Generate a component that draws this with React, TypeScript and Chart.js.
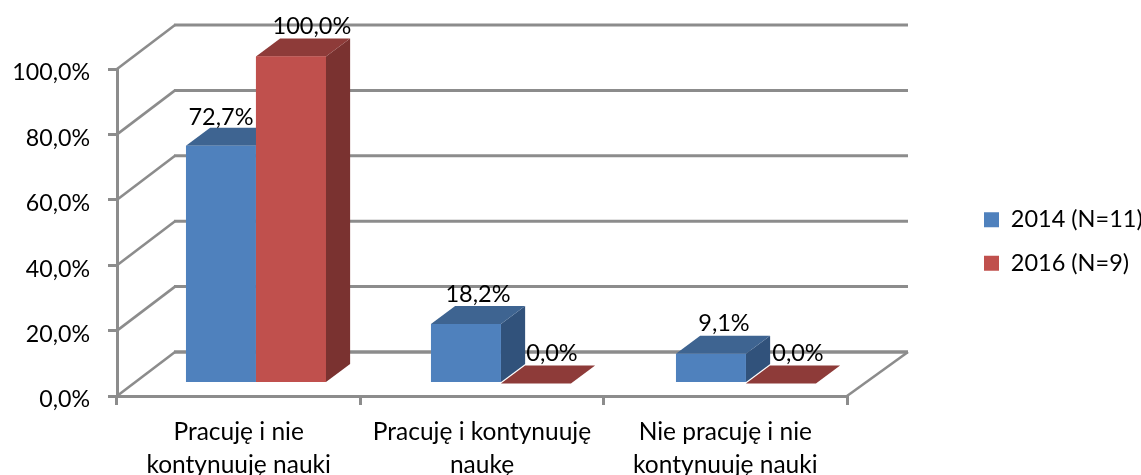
import React, { useEffect, useRef } from "react";
import { Chart, registerables } from "chart.js";

Chart.register(...registerables);

const categories = [
  ["Pracuję i nie", "kontynuuję nauki"],
  ["Pracuję i kontynuuję", "naukę"],
  ["Nie pracuję i nie", "kontynuuję nauki"],
];
const series2014 = [72.7, 18.2, 9.1];
const series2016 = [100, 0, 0];
const seriesNames = ["2014 (N=11)", "2016 (N=9)"];
const yTicks = [0, 20, 40, 60, 80, 100];

const FONT = "Lato";
const AXIS = "#8c8c8c";
const FACES = [
  { front: "#4f81bd", top: "#3e6491", side: "#31527b" },
  { front: "#c0504d", top: "#8e3b39", side: "#7a3230" },
];
// Perspective of the reference's pseudo-3D box
const WALL = { dx: 58, dy: 44 };
const BAR_PLANE = { sx: 1.00685, dx: 15.66, dy: 12.5 };
const BAR_DEPTH = { dx: 24, dy: 18 };
// Hand-placed label shifts of the reference, relative to the bar's front centre
const labelShifts = [
  [{ x: 0, y: 2 }, { x: 12, y: 0 }, { x: 13, y: 0 }],
  [{ x: 21, y: 0 }, { x: 16, y: 0 }, { x: 17, y: 0 }],
];

const fmt = (v: number) => v.toFixed(1).replace(".", ",") + "%";

function poly(ctx: CanvasRenderingContext2D, pts: number[][], fill: string) {
  ctx.beginPath();
  pts.forEach((p, i) => (i ? ctx.lineTo(p[0], p[1]) : ctx.moveTo(p[0], p[1])));
  ctx.closePath();
  ctx.fillStyle = fill;
  ctx.fill();
}

function toBarPlane(ctx: CanvasRenderingContext2D) {
  ctx.transform(BAR_PLANE.sx, 0, 0, 1, BAR_PLANE.dx, -BAR_PLANE.dy);
}

const box3d = {
  id: "box3d",
  afterLayout(chart: any) {
    const lg = chart.legend;
    const pad = lg.options.labels.padding;
    lg.left = 984 - pad;
    lg.right = 1141;
    lg.width = 1141 - lg.left;
    lg.top = 188.3;
    lg.bottom = 300;
    lg.height = 111.7;
  },
  beforeDatasetsDraw(chart: any) {
    const { ctx, chartArea, scales } = chart;
    const y = scales.y;
    const backX = chartArea.left + WALL.dx;
    const endX = chartArea.right + WALL.dx + 3;
    ctx.save();
    ctx.strokeStyle = AXIS;
    ctx.lineCap = "butt";
    y.ticks.forEach((t: any) => {
      const py = y.getPixelForValue(t.value);
      ctx.lineWidth = 2.6;
      ctx.beginPath();
      ctx.moveTo(chartArea.left, py);
      ctx.lineTo(backX, py - WALL.dy);
      ctx.stroke();
      ctx.lineWidth = t.value === 0 ? 3.4 : 3;
      ctx.beginPath();
      ctx.moveTo(backX - 1, py - WALL.dy);
      ctx.lineTo(endX, py - WALL.dy);
      ctx.stroke();
    });
    ctx.lineWidth = 2.6;
    const y0 = y.getPixelForValue(0);
    ctx.beginPath();
    ctx.moveTo(chartArea.right, y0);
    ctx.lineTo(endX, y0 - WALL.dy);
    ctx.stroke();
    ctx.restore();
  },
  beforeDatasetDraw(chart: any, args: any) {
    const { ctx } = chart;
    const f = FACES[args.index];
    ctx.save();
    toBarPlane(ctx);
    args.meta.data.forEach((el: any) => {
      const l = el.x - el.width / 2;
      const r = el.x + el.width / 2;
      const { dx, dy } = BAR_DEPTH;
      if (el.base - el.y > 1) {
        poly(ctx, [[r, el.y], [r + dx, el.y - dy], [r + dx, el.base - dy], [r, el.base]], f.side);
      }
      poly(ctx, [[l, el.y], [l + dx, el.y - dy], [r + dx, el.y - dy], [r, el.y]], f.top);
    });
  },
  afterDatasetDraw(chart: any) {
    chart.ctx.restore();
  },
  afterDatasetsDraw(chart: any) {
    const { ctx } = chart;
    // The second series stands in front of the first one's side face
    ctx.save();
    toBarPlane(ctx);
    chart.getDatasetMeta(1).data.forEach((el: any) => {
      if (el.base - el.y > 1) el.draw(ctx);
    });
    ctx.restore();

    ctx.save();
    ctx.font = `23.5px ${FONT}`;
    ctx.fillStyle = "#000";
    ctx.textAlign = "center";
    ctx.textBaseline = "middle";
    chart.data.datasets.forEach((ds: any, i: number) => {
      chart.getDatasetMeta(i).data.forEach((el: any, j: number) => {
        const s = labelShifts[i][j];
        ctx.fillText(
          fmt(ds.data[j]),
          el.x * BAR_PLANE.sx + BAR_PLANE.dx + s.x,
          el.y - BAR_PLANE.dy - BAR_DEPTH.dy - 12 + s.y
        );
      });
    });
    ctx.restore();
  },
};

export default function App() {
  const ref = useRef<HTMLCanvasElement>(null);
  useEffect(() => {
    const chart = new Chart(ref.current as HTMLCanvasElement, {
      type: "bar",
      data: {
        labels: categories,
        datasets: [
          { label: seriesNames[0], data: series2014, backgroundColor: FACES[0].front, borderWidth: 0, clip: false },
          { label: seriesNames[1], data: series2016, backgroundColor: FACES[1].front, borderWidth: 0, clip: false },
        ] as any,
      },
      options: {
        responsive: false,
        animation: false,
        font: { family: FONT },
        layout: { padding: { top: 69, right: 294, bottom: 0, left: 0 } },
        datasets: { bar: { categoryPercentage: 0.5714, barPercentage: 1 } },
        plugins: {
          title: { display: false },
          tooltip: { enabled: false },
          legend: {
            position: "chartArea",
            align: "start",
            labels: {
              boxWidth: 15,
              boxHeight: 15,
              padding: 19.8,
              color: "#000",
              font: { family: FONT, size: 23.5 },
            },
          },
        },
        scales: {
          x: {
            type: "category",
            offset: true,
            afterFit: (s: any) => { s.height = 79; },
            border: { display: true, color: AXIS, width: 3 },
            grid: { offset: true, drawOnChartArea: false, drawTicks: true, tickLength: 9, color: AXIS, lineWidth: 3 },
            ticks: {
              autoSkip: false,
              maxRotation: 0,
              minRotation: 0,
              padding: 10,
              color: "#000",
              font: { family: FONT, size: 24.5, lineHeight: 1.37 },
            },
          },
          y: {
            type: "linear",
            min: yTicks[0],
            max: yTicks[yTicks.length - 1],
            afterFit: (s: any) => { s.width = 117; },
            afterBuildTicks: (s: any) => { s.ticks = yTicks.map((value) => ({ value })); },
            border: { display: true, color: AXIS, width: 3 },
            grid: { drawOnChartArea: false, drawTicks: true, tickLength: 9, color: AXIS, lineWidth: 3 },
            ticks: {
              padding: 18,
              labelOffset: 4,
              color: "#000",
              font: { family: FONT, size: 23.2 },
              callback: (v: any) => fmt(Number(v)),
            },
          },
        },
      } as any,
      plugins: [box3d],
    });
    return () => chart.destroy();
  }, []);
  return (
    <div style={{ position: "absolute", left: 0, top: 0, width: 1141, height: 475, background: "#fff" }}>
      <canvas ref={ref} width={1141} height={475} style={{ display: "block" }} />
    </div>
  );
}
